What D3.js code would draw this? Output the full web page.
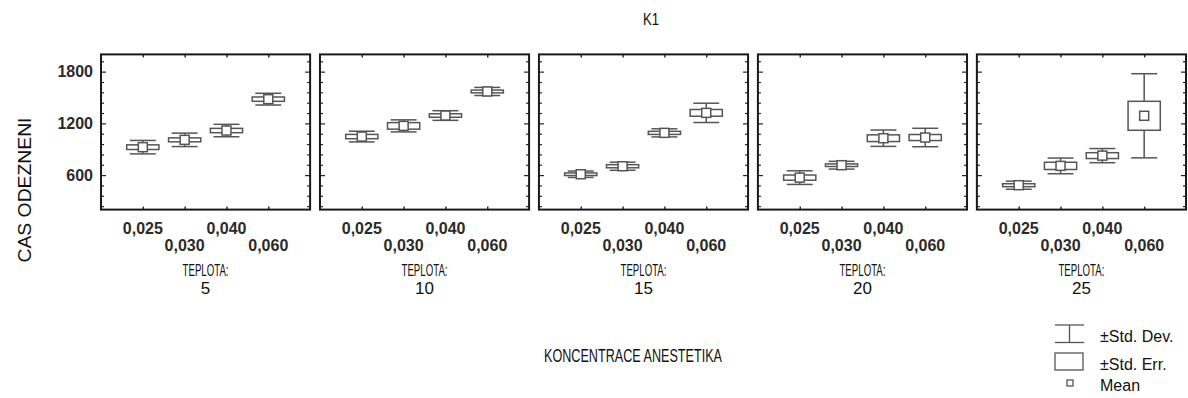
<!DOCTYPE html>
<html>
<head>
<meta charset="utf-8">
<script src="https://cdn.jsdelivr.net/npm/d3@7"></script>
<style>
  html, body { margin: 0; padding: 0; background: #fff; }
  svg { display: block; }
  text { font-family: "Liberation Sans", Arial, sans-serif; fill: #111; }
</style>
</head>
<body>
<svg id="chart" width="1188" height="398"></svg>
<script>
// Temperatures (one panel each) and anaesthetic concentrations (x categories)
const temperatures = [5, 10, 15, 20, 25];
const concentrations = ["0,025", "0,030", "0,040", "0,060"];

// Mean time per panel (rows: temperature, columns: concentration)
const means = [
  [924, 1009, 1117, 1481],
  [1047, 1171, 1291, 1570],
  [610, 703, 1090, 1322],
  [571, 715, 1028, 1036],
  [483, 707, 826, 1288]
];
// Standard error of the mean
const stdErrors = [
  [27, 23, 25, 25],
  [25, 38, 20, 16],
  [15, 18, 18, 39],
  [30, 15, 39, 35],
  [17, 42, 34, 168]
];
// Standard deviation
const stdDevs = [
  [78, 78, 72, 68],
  [62, 70, 56, 47],
  [37, 47, 47, 112],
  [79, 45, 95, 107],
  [47, 91, 82, 488]
];

const yMajorTicks = [600, 1200, 1800];
const yMinorTicks = d3.range(240, 2000, 120).filter(v => !yMajorTicks.includes(v));
const yDomain = [200, 2000];

const svg = d3.select("#chart");
const markColor = "#555";

const panelScale = d3.scaleBand()
  .domain(temperatures)
  .range([101, 1186])
  .paddingInner(0.045);

const y = d3.scaleLinear().domain(yDomain).range([209.6, 54.4]);

temperatures.forEach((t, pi) => {
  const x0 = panelScale(t);
  const w = panelScale.bandwidth();
  const g = svg.append("g").attr("transform", `translate(${x0},0)`);
  const x = d3.scalePoint().domain(concentrations).range([0, w]).padding(1);
  const step = x.step();

  // y ticks, drawn inward on both sides
  const addAxis = (axisFn, vals, size, dx) => {
    const a = g.append("g").attr("transform", `translate(${dx},0)`)
      .call(axisFn(y).tickValues(vals).tickSize(size).tickFormat(""));
    a.select(".domain").remove();
    a.selectAll("line").attr("stroke", "#222").attr("stroke-width", 1.2);
  };
  addAxis(d3.axisLeft, yMajorTicks, -5, 0);
  addAxis(d3.axisLeft, yMinorTicks, -3, 0);
  addAxis(d3.axisRight, yMajorTicks, -5, w);
  addAxis(d3.axisRight, yMinorTicks, -3, w);

  // x ticks at the category positions, top and bottom
  const bx = g.append("g").attr("transform", `translate(0,${y.range()[0]})`)
    .call(d3.axisBottom(x).tickSize(-3).tickFormat(""));
  bx.select(".domain").remove();
  bx.selectAll("line").attr("stroke", "#222").attr("stroke-width", 1.4);
  const tx = g.append("g").attr("transform", `translate(0,${y.range()[1]})`)
    .call(d3.axisTop(x).tickSize(-3).tickFormat(""));
  tx.select(".domain").remove();
  tx.selectAll("line").attr("stroke", "#222").attr("stroke-width", 1.4);

  // y tick labels on the first panel only
  if (pi === 0) {
    svg.append("g").selectAll("text").data(yMajorTicks).join("text")
      .attr("x", x0 - 8)
      .attr("y", d => y(d) + 5.5)
      .attr("text-anchor", "end")
      .style("font-size", "16px")
      .style("font-weight", "bold")
      .style("fill", "#2a2a2a")
      .text(d => d);
  }

  // category labels, staggered over two rows
  g.append("g").selectAll("text").data(concentrations).join("text")
    .attr("x", d => x(d))
    .attr("y", (d, i) => i % 2 === 0 ? 233.5 : 250.5)
    .attr("text-anchor", "middle")
    .style("font-size", "16px")
    .style("font-weight", "bold")
    .style("fill", "#2a2a2a")
    .text(d => d);

  g.append("text")
    .attr("x", w / 2).attr("y", 275.5)
    .attr("text-anchor", "middle")
    .attr("textLength", 46).attr("lengthAdjust", "spacingAndGlyphs")
    .style("font-size", "17px")
    .text("TEPLOTA:");
  g.append("text")
    .attr("x", w / 2).attr("y", 293.5)
    .attr("text-anchor", "middle")
    .style("font-size", "17px")
    .text(t);

  // whiskers (± std. dev.), std. error boxes and mean squares
  const cells = concentrations.map((c, i) => ({
    c, m: means[pi][i], se: stdErrors[pi][i], sd: stdDevs[pi][i]
  }));
  const capW = step * 0.62;
  const boxW = step * 0.77;
  const meanS = 9;

  const cg = g.append("g").attr("stroke", markColor).attr("stroke-width", 1.5).attr("fill", "#fff");
  cells.forEach(d => {
    const cx = x(d.c);
    cg.append("line").attr("x1", cx).attr("x2", cx).attr("y1", y(d.m + d.sd)).attr("y2", y(d.m - d.sd));
    cg.append("line").attr("x1", cx - capW / 2).attr("x2", cx + capW / 2).attr("y1", y(d.m + d.sd)).attr("y2", y(d.m + d.sd));
    cg.append("line").attr("x1", cx - capW / 2).attr("x2", cx + capW / 2).attr("y1", y(d.m - d.sd)).attr("y2", y(d.m - d.sd));
    cg.append("rect").attr("x", cx - boxW / 2).attr("width", boxW)
      .attr("y", y(d.m + d.se)).attr("height", y(d.m - d.se) - y(d.m + d.se));
    cg.append("rect").attr("x", cx - meanS / 2).attr("width", meanS)
      .attr("y", y(d.m) - meanS / 2).attr("height", meanS);
  });

  // panel frame
  g.append("rect").attr("x", 0).attr("y", y.range()[1]).attr("width", w)
    .attr("height", y.range()[0] - y.range()[1])
    .attr("fill", "none").attr("stroke", "#1a1a1a").attr("stroke-width", 2);
});

// titles
svg.append("text").attr("x", 651).attr("y", 24.5).attr("text-anchor", "middle")
  .attr("textLength", 16).attr("lengthAdjust", "spacingAndGlyphs")
  .style("font-size", "17px").text("K1");
svg.append("text").attr("transform", "translate(31,190) rotate(-90)").attr("text-anchor", "middle")
  .attr("textLength", 145).attr("lengthAdjust", "spacingAndGlyphs")
  .style("font-size", "18px").text("CAS ODEZNENI");
svg.append("text").attr("x", 633).attr("y", 362).attr("text-anchor", "middle")
  .attr("textLength", 178).attr("lengthAdjust", "spacingAndGlyphs")
  .style("font-size", "18px").text("KONCENTRACE ANESTETIKA");

// legend
const lg = svg.append("g").attr("stroke", markColor).attr("stroke-width", 1.3).attr("fill", "#fff");
lg.append("line").attr("x1", 1055).attr("x2", 1084).attr("y1", 325).attr("y2", 325);
lg.append("line").attr("x1", 1055).attr("x2", 1084).attr("y1", 342.5).attr("y2", 342.5);
lg.append("line").attr("x1", 1069.5).attr("x2", 1069.5).attr("y1", 325).attr("y2", 342.5);
lg.append("rect").attr("x", 1055).attr("y", 353).attr("width", 28).attr("height", 17);
lg.append("rect").attr("x", 1067).attr("y", 380).attr("width", 6).attr("height", 6);

const legendLabels = ["±Std. Dev.", "±Std. Err.", "Mean"];
svg.append("g").selectAll("text").data(legendLabels).join("text")
  .attr("x", 1100)
  .attr("y", (d, i) => [342, 370, 391][i])
  .style("font-size", "16px")
  .text(d => d);
</script>
</body>
</html>
